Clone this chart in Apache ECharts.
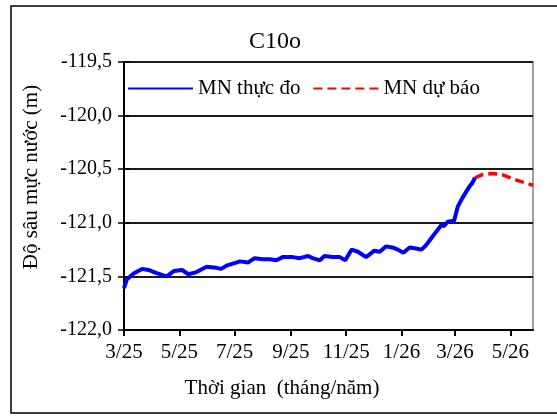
<!DOCTYPE html>
<html>
<head>
<meta charset="utf-8">
<script src="https://cdn.jsdelivr.net/npm/echarts@6/dist/echarts.min.js"></script>
<style>
html,body{margin:0;padding:0;background:#fff;}
#c{width:557px;height:416px;}
</style>
</head>
<body>
<div id="c"></div>
<script>
// ---- Data ----
const chartTitle = 'C10o';
const seriesNames = ['MN thực đo', 'MN dự báo'];
const obsDates = [
  '2025-03-01','2025-03-04','2025-03-12','2025-03-21','2025-03-28','2025-04-06','2025-04-17','2025-04-25',
  '2025-05-04','2025-05-11','2025-05-20','2025-05-31','2025-06-11','2025-06-16','2025-06-22','2025-07-07',
  '2025-07-16','2025-07-23','2025-08-01','2025-08-09','2025-08-16','2025-08-23','2025-09-03','2025-09-11',
  '2025-09-20','2025-09-25','2025-10-03','2025-10-08','2025-10-17','2025-10-25','2025-10-31','2025-11-07',
  '2025-11-14','2025-11-23','2025-12-02','2025-12-08','2025-12-15','2025-12-22','2025-12-28','2026-01-03',
  '2026-01-10','2026-01-17','2026-01-23','2026-01-28','2026-02-04','2026-02-14','2026-02-17','2026-02-21',
  '2026-02-28','2026-03-04','2026-03-09','2026-03-17','2026-03-20','2026-03-23'
];
const obsValues = [
  -121.61,-121.53,-121.47,-121.43,-121.44,-121.47,-121.50,-121.45,
  -121.44,-121.48,-121.46,-121.41,-121.42,-121.43,-121.40,-121.36,
  -121.37,-121.33,-121.34,-121.34,-121.35,-121.32,-121.32,-121.33,
  -121.31,-121.33,-121.35,-121.31,-121.32,-121.32,-121.35,-121.25,
  -121.27,-121.32,-121.26,-121.27,-121.22,-121.23,-121.25,-121.28,
  -121.23,-121.24,-121.25,-121.21,-121.13,-121.02,-121.03,-120.99,
  -120.98,-120.85,-120.77,-120.66,-120.63,-120.58
];
const fcDates = ['2026-03-23','2026-03-31','2026-04-11','2026-04-22','2026-05-07','2026-05-26'];
const fcValues = [-120.58,-120.55,-120.54,-120.55,-120.60,-120.65];
const xTickDates = ['2025-03-01','2025-05-01','2025-07-01','2025-09-01','2025-11-01','2026-01-01','2026-03-01','2026-05-01'];
const xTickLabels = ['3/25','5/25','7/25','9/25','11/25','1/26','3/26','5/26'];
const yTickLabels = ['-122,0','-121,5','-121,0','-120,5','-120,0','-119,5'];
const xAxisTitle = 'Thời gian  (tháng/năm)';
const yAxisTitle = 'Độ sâu mực nước (m)';
const xStart = '2025-03-01', xEnd = '2026-05-26';

// ---- helpers: dates -> day numbers since xStart ----
function dayNum(s){
  const p = s.split('-').map(Number);
  const q = xStart.split('-').map(Number);
  return Math.round((Date.UTC(p[0], p[1]-1, p[2]) - Date.UTC(q[0], q[1]-1, q[2])) / 86400000);
}
const tickDays = xTickDates.map(dayNum);
const labelMap = {};
tickDays.forEach((t,i)=>{ labelMap[t] = xTickLabels[i]; });
const yMin = -122, yMax = -119.5, yStep = 0.5;

const FONT = 'Liberation Serif';
const chart = echarts.init(document.getElementById('c'), null, {renderer:'canvas'});
chart.setOption({
  animation: false,
  backgroundColor: '#fff',
  title: {
    text: chartTitle, left: 249, top: 30, padding: 0,
    textStyle: {fontFamily: FONT, fontSize: 24, fontWeight: 'normal', color: '#000'}
  },
  legend: {
    left: 127, top: 78, padding: 0, itemWidth: 65, itemHeight: 14, itemGap: 12,
    data: seriesNames,
    itemStyle: {opacity: 0},
    textStyle: {fontFamily: FONT, fontSize: 21, color: '#000'}
  },
  grid: {left: 124, right: 24, top: 62, bottom: 86, show: true, borderColor: '#808080', borderWidth: 1.5, backgroundColor: 'transparent'},
  xAxis: {
    type: 'value',
    min: 0, max: dayNum(xEnd),
    axisLine: {show: true, onZero: false, lineStyle: {color: '#000', width: 2}},
    axisTick: {show: true, length: 6, lineStyle: {color: '#000', width: 2}, customValues: tickDays},
    axisLabel: {
      customValues: tickDays, margin: 12,
      fontFamily: FONT, fontSize: 21, color: '#000',
      formatter: function(v){ return labelMap[v] !== undefined ? labelMap[v] : ''; }
    },
    splitLine: {show: false}
  },
  yAxis: [{
    type: 'value', min: yMin, max: yMax, interval: yStep,
    axisLine: {show: true, onZero: false, lineStyle: {color: '#000', width: 2}},
    axisTick: {show: true, length: 6, lineStyle: {color: '#000', width: 1.5}},
    axisLabel: {
      margin: 12, fontFamily: FONT, fontSize: 20, color: '#000',
      formatter: function(v){ return yTickLabels[Math.round((v - yMin)/yStep)]; }
    },
    splitLine: {show: true, lineStyle: {color: '#1a1a1a', width: 2}}
  },{
    type: 'value', min: yMin, max: yMax, interval: yStep, position: 'left',
    axisLine: {show: false},
    axisTick: {show: true, inside: true, length: 6, lineStyle: {color: '#000', width: 1.5}},
    axisLabel: {show: false},
    splitLine: {show: false}
  }],
  graphic: [
    {type: 'rect', silent: true, shape: {x: 11, y: 6, width: 600, height: 407}, style: {fill: 'none', stroke: '#000', lineWidth: 1.5}},
    {type: 'text', silent: true, x: 31, y: 177, rotation: Math.PI/2,
     style: {text: yAxisTitle, fontFamily: FONT, fontSize: 21, fill: '#000', align: 'center', verticalAlign: 'middle'}},
    {type: 'text', silent: true, x: 282, y: 388,
     style: {text: xAxisTitle, fontFamily: FONT, fontSize: 21, fill: '#000', align: 'center', verticalAlign: 'middle'}}
  ],
  series: [
    {
      name: seriesNames[0], type: 'line', showSymbol: false, symbol: 'none',
      data: obsDates.map((d,i)=>[dayNum(d), obsValues[i]]),
      lineStyle: {color: '#0000FF', width: 4},
      itemStyle: {color: '#0000FF'}, z: 3
    },
    {
      name: seriesNames[1], type: 'line', showSymbol: false, symbol: 'none',
      data: fcDates.map((d,i)=>[dayNum(d), fcValues[i]]),
      lineStyle: {color: '#FF0000', width: 3.5, type: [9,5]},
      itemStyle: {color: '#FF0000'}, z: 2
    }
  ]
});
</script>
</body>
</html>
